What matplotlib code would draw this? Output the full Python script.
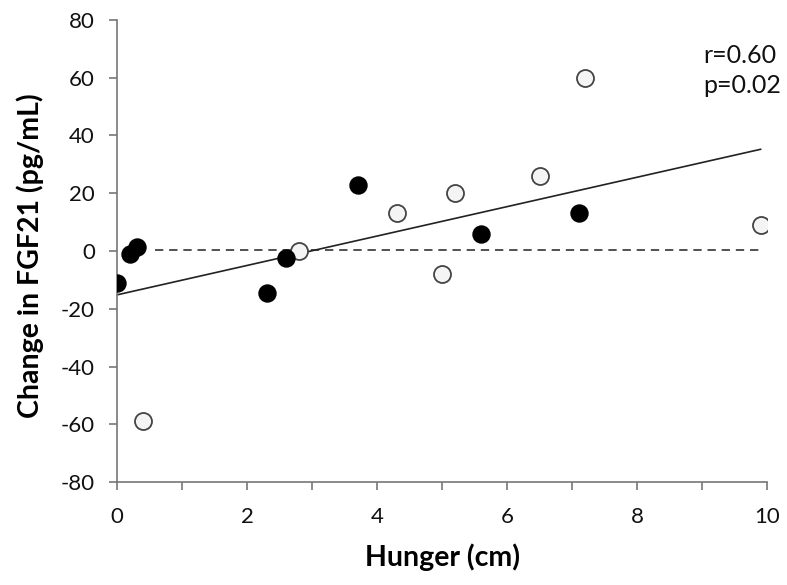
import matplotlib
matplotlib.use('Agg')
import matplotlib.pyplot as plt
from matplotlib.ticker import MultipleLocator

plt.rcParams['font.family'] = ['Lato', 'DejaVu Sans']
plt.rcParams['axes.unicode_minus'] = False

# filled circles
filled_x = [0.0, 0.2, 0.3, 2.3, 2.6, 3.7, 5.6, 7.1]
filled_y = [-11, -1, 1.5, -14.5, -2.5, 23, 6, 13]
# open circles
open_x = [0.4, 2.8, 4.3, 5.0, 5.2, 6.5, 7.2, 9.9]
open_y = [-59, 0, 13, -8, 20, 26, 60, 9]
# regression line ends
fit_x = [0, 9.9]
fit_y = [-15.2, 35.2]
# reference line
ref_x = [0.58, 9.9]
ref_y = [0.5, 0.5]

fig = plt.figure(figsize=(7.87, 5.85), dpi=100)
ax = fig.add_axes([0.1487, 0.176, 0.826, 0.79])

ax.plot(ref_x, ref_y, '--', color='#333333', lw=1.2, dashes=(5, 3.5))
ax.plot(fit_x, fit_y, '-', color='#222222', lw=1.2)
ax.scatter(open_x, open_y, s=150, facecolor='#f4f4f4', edgecolor='#444444', lw=1.3, zorder=3)
ax.scatter(filled_x, filled_y, s=150, facecolor='black', edgecolor='black', lw=1, zorder=3)

ax.set_xlim(0, 10)
ax.set_ylim(-80, 80)
ax.xaxis.set_major_locator(MultipleLocator(2))
ax.xaxis.set_minor_locator(MultipleLocator(1))
ax.yaxis.set_major_locator(MultipleLocator(20))
for s in ['top', 'right']:
    ax.spines[s].set_visible(False)
for s in ['left', 'bottom']:
    ax.spines[s].set_color('#777777')
    ax.spines[s].set_linewidth(1.2)
ax.tick_params(which='both', color='#777777', width=1.2, labelsize=16, colors='#777777', labelcolor='#111111')
ax.tick_params(which='both', length=6)
ax.tick_params(axis='x', which='major', pad=12)
ax.tick_params(axis='y', which='major', pad=10)

ax.set_xlabel('Hunger (cm)', fontsize=20.5, fontweight='bold', va='center')
ax.set_ylabel('Change in FGF21 (pg/mL)', fontsize=20.5, fontweight='bold', va='center')
ax.xaxis.set_label_coords(0.5, -0.163)
ax.yaxis.set_label_coords(-0.134, 0.49)

ax.text(9.02, 65, 'r=0.60', fontsize=18, ha='left', va='baseline', color='#111111')
ax.text(9.02, 54.7, 'p=0.02', fontsize=18, ha='left', va='baseline', color='#111111')

fig.savefig('out.png', dpi=100)
